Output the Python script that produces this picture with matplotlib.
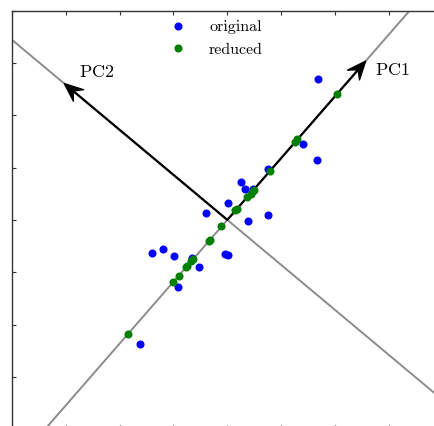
import numpy as np
from matplotlib import pyplot as plt

plt.rcParams["mathtext.fontset"] = "cm"
plt.rcParams["font.family"] = ["cmr10", "DejaVu Serif"]
plt.rcParams["axes.formatter.use_mathtext"] = True

# original (centred) samples
orig_x = [1.69, 1.41, 1.66, 0.75, 0.25, 0.33, 0.47, 0.02, -0.40, 0.76,
          0.39, -1.40, -1.19, -0.99, -0.66, -0.04, 0.02, -0.53, -0.91, -1.62]
orig_y = [2.69, 1.45, 1.15, 0.97, 0.73, 0.59, 0.60, 0.33, 0.13, 0.10,
          -0.03, -0.64, -0.56, -0.69, -0.73, -0.65, -0.67, -0.91, -1.28, -2.38]

# reduced samples (sitting on the PC1 line)
red_x = [2.03, 1.30, 1.26, 0.79, 0.47, 0.43, 0.49, 0.17, -0.11, 0.37,
         0.15, -0.90, -0.77, -0.75, -0.64, -0.34, -0.32, -0.67, -1.01, -1.85]
red_y = [2.40, 1.54, 1.49, 0.94, 0.55, 0.50, 0.58, 0.20, -0.12, 0.43,
         0.18, -1.07, -0.91, -0.89, -0.75, -0.40, -0.38, -0.79, -1.19, -2.19]

# principal axis tips
pc1 = (2.57, 3.04)
pc2 = (-3.03, 2.61)

fig = plt.figure(figsize=(4.34, 4.26), dpi=100)
ax = fig.add_axes([0.0272, -0.0073, 0.9933, 0.9822])
ax.set_xlim(-4, 4)
ax.set_ylim(-4, 4)

for tip in (pc1, pc2):
    ax.plot([-3 * tip[0], 3 * tip[0]], [-3 * tip[1], 3 * tip[1]],
            color="0.55", lw=1.4, zorder=1)
    ax.arrow(0, 0, tip[0], tip[1], width=0.02, head_width=0.3,
             head_length=0.36, overhang=0.35, length_includes_head=True,
             fc="k", ec="k", lw=0.8, zorder=2)

ax.plot(orig_x, orig_y, "o", color="b", mec="none", ms=5.8, label="original", zorder=3)
ax.plot(red_x, red_y, "o", color="g", mec="none", ms=5.8, label="reduced", zorder=4)

ax.text(2.74, 2.87, r"$\mathrm{PC1}$", fontsize=13, ha="left", va="center")
ax.text(-2.76, 2.83, r"$\mathrm{PC2}$", fontsize=13, ha="left", va="center")

leg = ax.legend(loc="upper center", frameon=False, numpoints=1,
                fontsize=11.5, handlelength=1.5, handletextpad=1.2,
                borderaxespad=0.2, bbox_to_anchor=(0.47, 1.0))

ax.set_xticks(np.arange(-4, 5))
ax.set_yticks(np.arange(-4, 5))
ax.tick_params(direction="in", length=3, width=0.8, colors="0.2",
               top=True, right=True, labelleft=False, labelbottom=False)
for s in ax.spines.values():
    s.set_color("0.2")
    s.set_linewidth(1.0)

fig.savefig("out.png", dpi=100)
